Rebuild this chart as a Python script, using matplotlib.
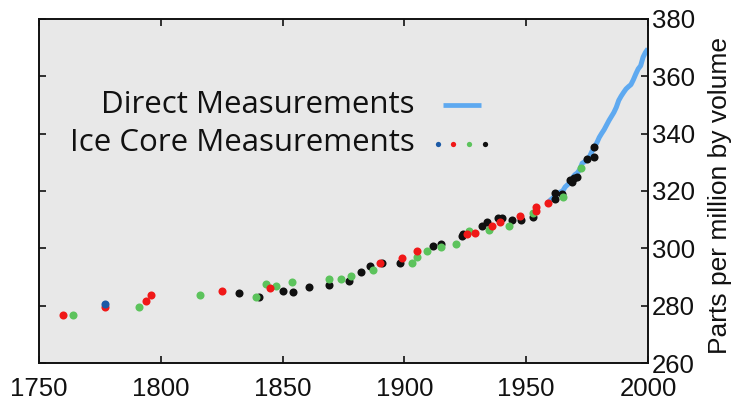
import matplotlib
matplotlib.use("Agg")
import matplotlib.pyplot as plt

# direct measurements (annual means)
direct_years = [1959, 1960, 1961, 1962, 1963, 1964, 1965, 1966, 1967, 1968,
                1969, 1970, 1971, 1972, 1973, 1974, 1975, 1976, 1977, 1978,
                1979, 1980, 1981, 1982, 1983, 1984, 1985, 1986, 1987, 1988,
                1989, 1990, 1991, 1992, 1993, 1994, 1995, 1996, 1997, 1998,
                1999, 2000]
direct_ppm = [316.0, 316.9, 317.6, 318.5, 319.0, 319.6, 320.0, 321.4, 322.2, 323.0,
              324.6, 325.7, 326.3, 327.5, 329.7, 330.2, 331.1, 332.0, 333.8, 335.4,
              336.8, 338.7, 340.1, 341.4, 343.0, 344.6, 346.0, 347.4, 349.2, 351.6,
              353.1, 354.4, 355.6, 356.4, 357.1, 358.8, 360.8, 362.6, 363.7, 366.7,
              368.4, 369.6]

# ice core records, one list per colour
blue_years = [1777.2]
blue_ppm = [280.5]

red_years = [1760, 1777.2, 1794, 1796.1, 1825, 1845, 1890, 1898.9, 1905, 1925.8,
             1929, 1936, 1939.2, 1947.5, 1953.9, 1953.9, 1958.8]
red_ppm = [276.8, 279.4, 281.6, 283.7, 285.1, 286.1, 294.8, 296.7, 299.2, 305.0,
           305.2, 307.9, 309.1, 311.4, 314.5, 313.0, 315.7]

green_years = [1764, 1791, 1816.1, 1839, 1843, 1847.3, 1854, 1869, 1874.1, 1878,
               1887.1, 1903, 1905, 1909.1, 1915, 1921, 1926.6, 1934.9, 1943, 1952.7,
               1965, 1972.4]
green_ppm = [276.8, 279.6, 283.8, 283.0, 287.5, 286.9, 288.3, 289.3, 289.4, 290.4,
             292.3, 294.8, 296.9, 299.2, 300.4, 301.5, 306.0, 306.4, 307.9, 312.4,
             317.9, 328.1]

black_years = [1832.2, 1840.4, 1850, 1854.1, 1861, 1869, 1877.3, 1882, 1886, 1891,
               1898, 1911.9, 1915, 1923.8, 1924, 1932, 1933.8, 1938.3, 1940.2, 1944,
               1947.7, 1952.7, 1961.8, 1961.8, 1964.6, 1968, 1969, 1969.6, 1970.7,
               1974.8, 1978, 1978]
black_ppm = [284.5, 282.9, 285.2, 284.9, 286.5, 287.3, 288.7, 291.9, 293.7, 294.8,
             294.8, 300.7, 301.5, 304.3, 305.0, 307.7, 309.2, 310.6, 310.7, 309.8,
             309.9, 311.0, 319.2, 317.2, 318.9, 323.8, 323.0, 324.4, 325.0,
             331.2, 335.2, 332.0]

x_ticks = [1750, 1800, 1850, 1900, 1950, 2000]
y_ticks = [260, 280, 300, 320, 340, 360, 380]

line_color = "#5ea9f0"
dot_colors = {"blue": "#1c5aa6", "red": "#f01818", "green": "#5cc35c", "black": "#101010"}

fig = plt.figure(figsize=(7.43, 4.05), dpi=100)
ax = fig.add_axes([0.0525, 0.1037, 0.8196, 0.8494])
ax.set_facecolor("#e8e8e8")

ax.plot(direct_years, direct_ppm, color=line_color, lw=3.6, solid_capstyle="butt", zorder=2)

ms = 5.8
ax.plot(black_years, black_ppm, "o", color=dot_colors["black"], ms=ms, mec="none", zorder=3)
ax.plot(green_years, green_ppm, "o", color=dot_colors["green"], ms=ms, mec="none", zorder=3)
ax.plot(red_years, red_ppm, "o", color=dot_colors["red"], ms=ms, mec="none", zorder=3)
ax.plot(blue_years, blue_ppm, "o", color=dot_colors["blue"], ms=ms, mec="none", zorder=3)

ax.set_xlim(1750, 2000)
ax.set_ylim(260, 380)
ax.set_xticks(x_ticks)
ax.set_yticks(y_ticks)

for s in ax.spines.values():
    s.set_linewidth(1.4)
    s.set_color("#111111")

ax.tick_params(direction="in", length=5, width=1.2, top=True, bottom=True,
               left=True, right=True, labelleft=False, labelright=True,
               labelsize=18.5, colors="#111111")
ax.tick_params(axis="x", pad=10)
ax.tick_params(axis="y", pad=3)
for lab in ax.get_xticklabels() + ax.get_yticklabels():
    lab.set_family("Liberation Sans")

ax.yaxis.set_label_position("right")
ax.set_ylabel("Parts per million by volume", fontsize=19, family="Liberation Sans",
              color="#111111", rotation=90)
ax.yaxis.set_label_coords(1.098, 0.488)

# legend drawn by hand, text right aligned with samples after it
ax.text(0.617, 0.75, "Direct Measurements", transform=ax.transAxes, ha="right",
        va="center", fontsize=22.5, family="Open Sans", color="#111111")
ax.text(0.617, 0.64, "Ice Core Measurements", transform=ax.transAxes, ha="right",
        va="center", fontsize=22.5, family="Open Sans", color="#111111")
ax.plot([0.663, 0.726], [0.75, 0.75], transform=ax.transAxes, color=line_color,
        lw=3.4, solid_capstyle="butt")
for xpos, key in zip([0.655, 0.68, 0.706, 0.732], ["blue", "red", "green", "black"]):
    ax.plot([xpos], [0.637], "o", transform=ax.transAxes, color=dot_colors[key],
            ms=3.8, mec="none")

fig.savefig("out.png", dpi=100)
